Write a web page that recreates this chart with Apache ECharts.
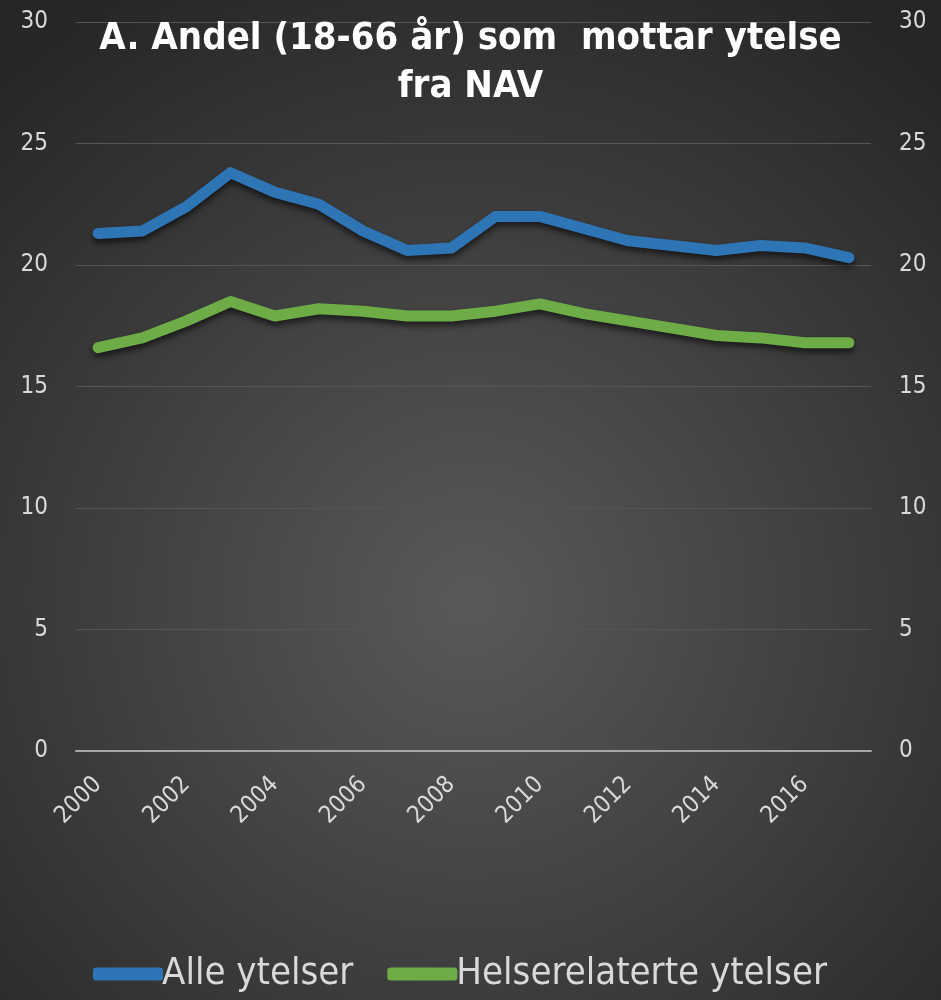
<!DOCTYPE html>
<html>
<head>
<meta charset="utf-8">
<script src="https://cdn.jsdelivr.net/npm/echarts@6/dist/echarts.min.js"></script>
<style>
  html, body { margin: 0; padding: 0; }
  #chart { width: 941px; height: 1000px; }
</style>
</head>
<body>
<div id="chart"></div>
<script>
// år og verdier lest av figuren
const years = ['2000','2001','2002','2003','2004','2005','2006','2007','2008',
  '2009','2010','2011','2012','2013','2014','2015','2016','2017']
const alleYtelser = [21.3, 21.4, 22.4, 23.8, 23.0, 22.5, 21.4, 20.6, 20.7,
  22.0, 22.0, 21.5, 21.0, 20.8, 20.6, 20.8, 20.7, 20.3]
const helseYtelser = [16.6, 17.0, 17.7, 18.5, 17.9, 18.2, 18.1, 17.9, 17.9,
  18.1, 18.4, 18.0, 17.7, 17.4, 17.1, 17.0, 16.8, 16.8]

const font = "'Liberation Sans Narrow', 'DejaVu Sans Condensed', sans-serif"
const labelColor = '#d9d9d9'

const myChart = echarts.init(document.getElementById('chart'))

const yAxisBase = {
  type: 'value',
  min: 0,
  max: 30,
  interval: 5,
  axisLine: { show: false },
  axisTick: { show: false },
  axisLabel: { color: labelColor, fontSize: 24, fontFamily: font, margin: 28 }
}

myChart.setOption({
  backgroundColor: {
    type: 'radial', x: 0.5, y: 0.6, r: 0.75,
    colorStops: [
      { offset: 0, color: '#595959' },
      { offset: 1, color: '#262626' }
    ]
  },
  title: {
    text: 'A. Andel (18-66 år) som  mottar ytelse\nfra NAV',
    left: 'center',
    top: 10,
    padding: [5, 30, 5, 5],
    textStyle: {
      color: '#ffffff', fontSize: 38, fontWeight: 'bold',
      fontFamily: font, lineHeight: 48
    }
  },
  legend: {
    bottom: 2,
    left: 88,
    icon: 'roundRect',
    itemWidth: 70,
    itemHeight: 13,
    itemGap: 34,
    textStyle: { color: labelColor, fontSize: 38, fontFamily: font, padding: [0, 0, 0, -6] },
    data: ['Alle ytelser', 'Helserelaterte ytelser']
  },
  grid: { left: 76, right: 70, top: 22, bottom: 249 },
  xAxis: {
    type: 'category',
    data: years,
    boundaryGap: true,
    axisLine: { lineStyle: { color: '#a6a6a6', width: 2 } },
    axisTick: { show: false },
    axisLabel: {
      color: labelColor, fontSize: 24, fontFamily: font,
      rotate: 45, interval: 1, margin: 30
    }
  },
  yAxis: [
    Object.assign({}, yAxisBase, {
      position: 'left',
      splitLine: { lineStyle: { color: '#555555', width: 1 } }
    }),
    Object.assign({}, yAxisBase, {
      position: 'right',
      splitLine: { show: false }
    })
  ],
  series: [
    {
      name: 'Alle ytelser',
      type: 'line',
      data: alleYtelser,
      symbol: 'none',
      lineStyle: {
        color: '#2E75B6', width: 11, cap: 'round', join: 'round',
        shadowColor: 'rgba(0,0,0,0.6)', shadowBlur: 6, shadowOffsetY: 4
      },
      itemStyle: { color: '#2E75B6' }
    },
    {
      name: 'Helserelaterte ytelser',
      type: 'line',
      data: helseYtelser,
      symbol: 'none',
      lineStyle: {
        color: '#6DAC47', width: 11, cap: 'round', join: 'round',
        shadowColor: 'rgba(0,0,0,0.6)', shadowBlur: 6, shadowOffsetY: 4
      },
      itemStyle: { color: '#6DAC47' }
    }
  ]
})
</script>
</body>
</html>
